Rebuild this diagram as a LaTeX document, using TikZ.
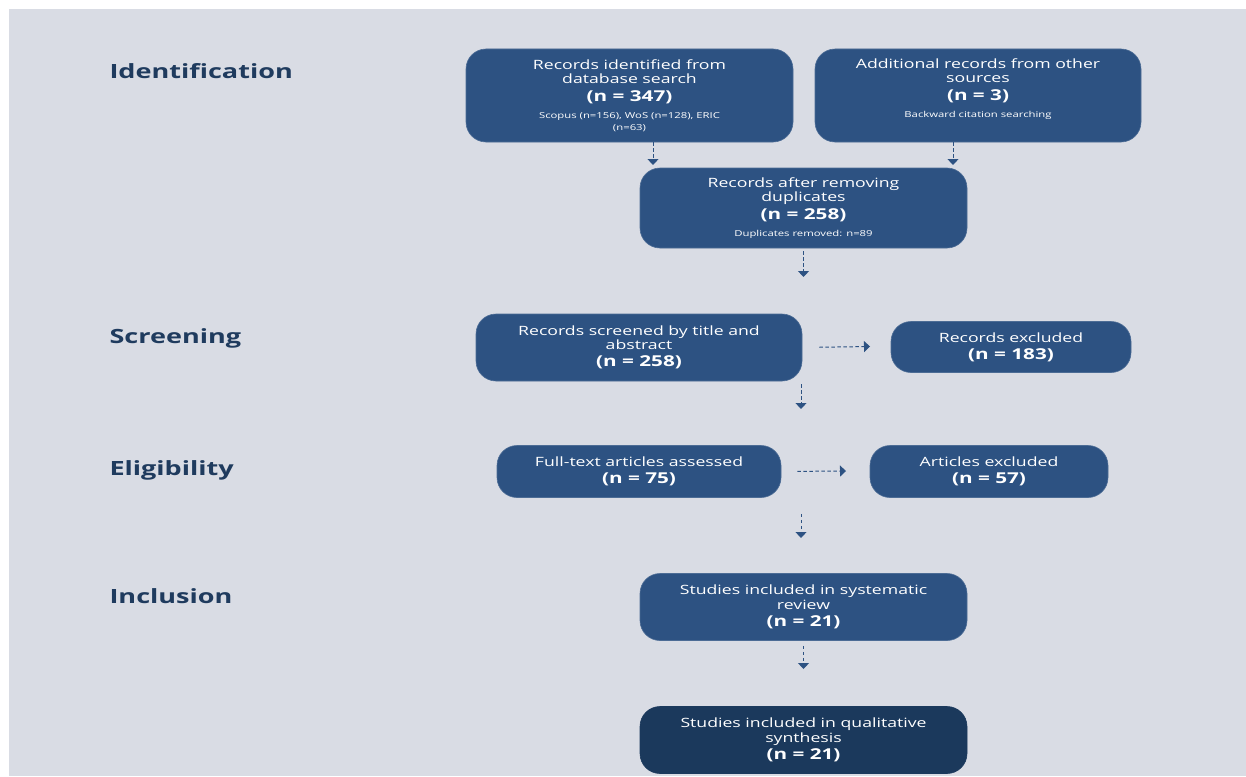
\documentclass[tikz,border=0pt]{standalone}
\usepackage{fontspec}
\setmainfont{Open Sans}
\newfontfamily\widefont{Open Sans}[FakeStretch=1.38]
\usetikzlibrary{arrows.meta}

\definecolor{bggray}{HTML}{D9DCE4}
\definecolor{boxblue}{HTML}{2D5282}
\definecolor{boxdark}{HTML}{1B395C}
\definecolor{phaseblue}{HTML}{1F3B5E}

\newcommand{\nval}[1]{{\fontsize{15}{17}\selectfont\bfseries #1}}
\newcommand{\subnote}[1]{{\fontsize{8.2}{10}\selectfont #1}}

\tikzset{
  stage/.style={rounded corners=20pt, fill=boxblue, draw=boxblue!85!white, line width=0.6pt,
    text=white, align=center, inner sep=0pt, font=\widefont\fontsize{12.8}{14.5}\selectfont},
  flow/.style={draw=boxblue, line width=1pt, dash pattern=on 3.5pt off 2.5pt,
    -{Triangle[width=11pt,length=6pt]}},
  phase/.style={anchor=base west, text=phaseblue, font=\widefont\fontsize{19.6}{24}\selectfont\bfseries}
}

\begin{document}
\begin{tikzpicture}[x=1pt,y=-1pt]
    % Background
    \useasboundingbox (0,0) rectangle (1246,776);
    \fill[bggray] (9,9) rectangle (1246,776);

    % Phases
    \node[phase] (ident) at (106,78) {Identification};
    \node[phase] (screening) at (106,343) {Screening};
    \node[phase] (elig) at (106,475) {Eligibility};
    \node[phase] (incl) at (106,603) {Inclusion};

    % Identification
    \node[stage, minimum width=327pt, minimum height=93pt] (db) at (629.5,95.5)
        {Records identified from\\database search\\[3pt]\nval{(n = 347)}\\[2.5pt]
         \subnote{Scopus (n=156), WoS (n=128), ERIC}\\[-2.5pt]\subnote{(n=63)}};
    \node[stage, minimum width=326pt, minimum height=93pt] (other) at (978,95.5)
        {Additional records from other\\sources\\[3pt]\nval{(n = 3)}\\[2.5pt]\subnote{Backward citation searching}\\[-2.5pt]\subnote{\strut}};
    \node[stage, minimum width=327pt, minimum height=80pt] (dup) at (803.5,208)
        {Records after removing\\duplicates\\[3pt]\nval{(n = 258)}\\[2.5pt]\subnote{Duplicates removed: n=89}};

    % Screening
    \node[stage, minimum width=326pt, minimum height=67pt] (screen) at (639,347.5)
        {Records screened by title and\\abstract\\[2.5pt]\nval{(n = 258)}};
    \node[stage, minimum width=240pt, minimum height=51pt] (recex) at (1011,347)
        {Records excluded\\[2.5pt]\nval{(n = 183)}};

    % Eligibility
    \node[stage, minimum width=284pt, minimum height=52pt] (full) at (639,471.5)
        {Full-text articles assessed\\[2.5pt]\nval{(n = 75)}};
    \node[stage, minimum width=238pt, minimum height=52pt] (artex) at (989,471.5)
        {Articles excluded\\[2.5pt]\nval{(n = 57)}};

    % Inclusion
    \node[stage, minimum width=327pt, minimum height=67pt] (sys) at (803.5,607)
        {Studies included in systematic\\review\\[2.5pt]\nval{(n = 21)}};
    \node[stage, fill=boxdark, draw=boxdark, minimum width=327pt, minimum height=67pt] (qual) at (803.5,740)
        {Studies included in qualitative\\synthesis\\[2.5pt]\nval{(n = 21)}};

    % Arrows
    \coordinate (dbin) at (653,165);
    \coordinate (otherin) at (953,165);
    \coordinate (dupout) at (803.5,277);
    \coordinate (screenout) at (801,409);
    \coordinate (recexin) at (870,346.5);
    \coordinate (fullout) at (801,538);
    \coordinate (artexin) at (846,471);
    \coordinate (sysout) at (803.5,669);

    \draw[flow] (db.south -| dbin) -- (dbin);
    \draw[flow] (other.south -| otherin) -- (otherin);
    \draw[flow, shorten <=3pt] (dup.south) -- (dupout);
    \draw[flow, shorten <=3pt] (screen.south -| screenout) -- (screenout);
    \draw[flow, shorten <=17pt] (screen.east) -- (recexin);
    \draw[flow, shorten <=16pt] (full.south -| fullout) -- (fullout);
    \draw[flow, shorten <=16pt] (full.east) -- (artexin);
    \draw[flow, shorten <=5pt] (sys.south) -- (sysout);
\end{tikzpicture}
\end{document}
